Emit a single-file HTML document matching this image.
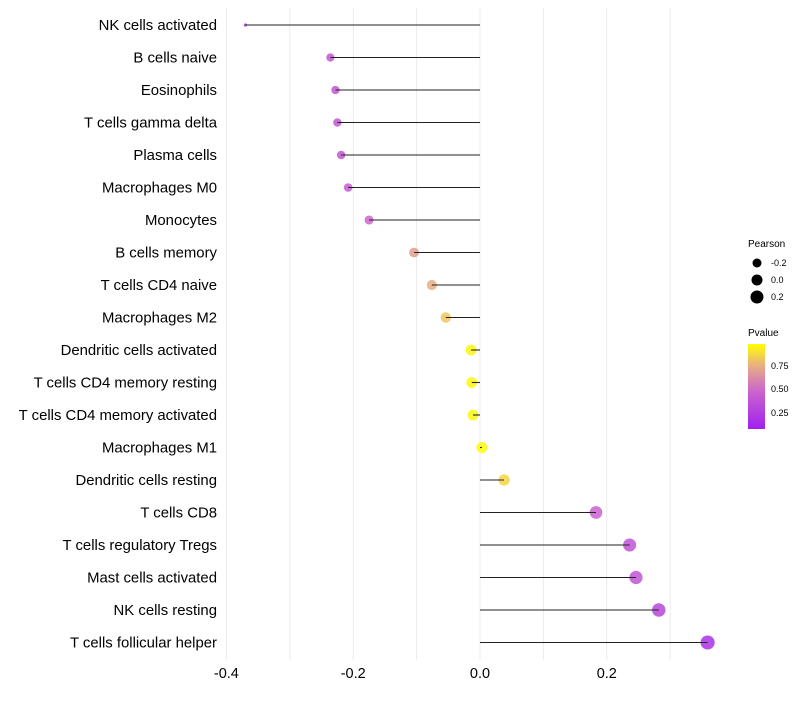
<!DOCTYPE html>
<html><head><meta charset="utf-8"><style>
body{margin:0;background:#fff;font-family:"Liberation Sans",sans-serif}
</style></head><body>
<svg id="chart" width="800" height="700" xmlns="http://www.w3.org/2000/svg">
<defs><linearGradient id="pg" x1="0" y1="1" x2="0" y2="0">
<stop offset="0" stop-color="#A020F0"/><stop offset="0.45" stop-color="#CC66CC"/><stop offset="0.75" stop-color="#E8B080"/><stop offset="1" stop-color="#FFFF00"/></linearGradient></defs>
<g id="grid"></g><g id="dots"></g><g id="marks"></g><g id="labels"></g>
<g font-size="9" fill="#000">
<text x="748" y="247" font-size="10">Pearson</text>
<circle cx="757" cy="263" r="4.5"/><text x="771" y="266">-0.2</text>
<circle cx="757" cy="280" r="5.5"/><text x="771" y="283">0.0</text>
<circle cx="757" cy="297" r="6.5"/><text x="771" y="300">0.2</text>
</g>
<g font-size="9">
<text x="748" y="336" font-size="10">Pvalue</text>
<rect x="748" y="344" width="17" height="85" fill="url(#pg)"/>
<text x="771" y="369">0.75</text><text x="771" y="392">0.50</text><text x="771" y="416">0.25</text>
</g>
</svg>
<script>
const cells=["NK cells activated","B cells naive","Eosinophils","T cells gamma delta","Plasma cells","Macrophages M0","Monocytes","B cells memory","T cells CD4 naive","Macrophages M2","Dendritic cells activated","T cells CD4 memory resting","T cells CD4 memory activated","Macrophages M1","Dendritic cells resting","T cells CD8","T cells regulatory  Tregs ","Mast cells activated","NK cells resting","T cells follicular helper"];
const pearson=[-0.37,-0.236,-0.228,-0.225,-0.219,-0.208,-0.175,-0.104,-0.076,-0.054,-0.014,-0.013,-0.011,0.003,0.038,0.183,0.236,0.246,0.282,0.359];
const pvalue=[0.1,0.35,0.35,0.35,0.35,0.37,0.45,0.68,0.74,0.82,0.97,0.97,0.97,0.99,0.87,0.42,0.33,0.33,0.25,0.1];
const xticks=[-0.4,-0.2,0.0,0.2];
const ns="http://www.w3.org/2000/svg";
const x=v=>480+v*634, y=i=>25+i*32.5;
function mk(t,a,p){const e=document.createElementNS(ns,t);for(const k in a)e.setAttribute(k,a[k]);p.appendChild(e);return e;}
function lerp(a,b,t){return a.map((v,i)=>Math.round(v+(b[i]-v)*t));}
function col(p){const s=[[0,[160,32,240]],[0.45,[204,102,204]],[0.75,[232,176,128]],[1,[255,255,0]]];
for(let i=1;i<s.length;i++)if(p<=s[i][0]){const t=(p-s[i-1][0])/(s[i][0]-s[i-1][0]);return 'rgb('+lerp(s[i-1][1],s[i][1],t)+')';}return 'rgb(255,255,0)';}
const G=document.getElementById('grid'),D=document.getElementById('dots'),M=document.getElementById('marks'),L=document.getElementById('labels');
for(let v=-0.4;v<=0.351;v+=0.1){const l=mk('line',{x1:x(v),x2:x(v),y1:8,y2:660,stroke:'#ebebeb','stroke-width':1},G);

}
xticks.forEach(v=>{const t=mk('text',{x:x(v),y:678,'text-anchor':'middle','font-size':14.5,fill:'#000'},L);t.textContent=v.toFixed(1);

});
const pmin=Math.min(...pearson);
cells.forEach((c,i)=>{
const t=mk('text',{x:217,y:y(i)+5,'text-anchor':'end','font-size':14.9,fill:'#000'},L);t.textContent=c;


const ln=mk('line',{x1:x(0),x2:x(pearson[i]),y1:y(i),y2:y(i),stroke:'#222','stroke-width':1.1},M);


const r=pearson[i]===pmin?1.6:Math.sqrt(Math.max(2.25,30+55*pearson[i]));
const d=mk('circle',{cx:x(pearson[i]),cy:y(i),r:r,fill:col(pvalue[i]),'fill-opacity':0.85},D);


});
</script>
</body></html>
